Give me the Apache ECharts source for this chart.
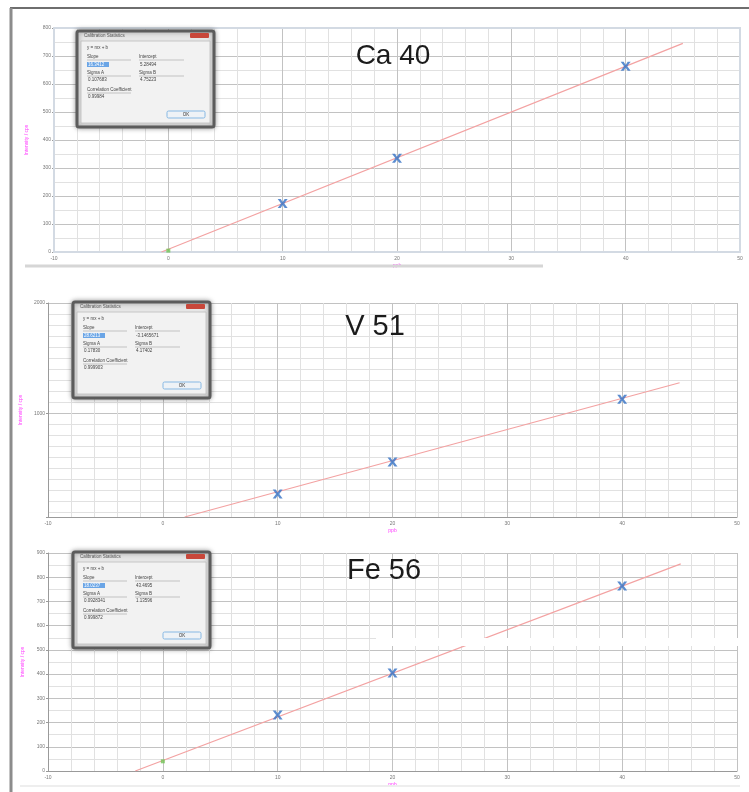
<html>
<head>
<meta charset="utf-8" />
<title>Calibration curves</title>
<script src="https://cdn.jsdelivr.net/npm/echarts@6/dist/echarts.min.js"></script>
<style>
    html, body { margin: 0; padding: 0; background: #fff; }
    #chart { width: 749px; height: 792px; }
</style>
</head>
<body>
<div id="chart"></div>
<script>
    let stdX = [10, 20, 40];

    let caY = [173, 335, 663];
    let caFitX = [-0.6, 45];
    let caFitY = [0, 745];
    let caBlank = [0, 5];

    let vY = [266, 556, 1127];
    let vFitX = [1.9, 45];
    let vFitY = [57, 1276];

    let feY = [231, 405, 764];
    let feFitX = [-2.4, 45.1];
    let feFitY = [0, 855];
    let feBlank = [0, 40];

    let titles = ['Ca 40', 'V 51', 'Fe 56'];

    // dialog texts: slope, intercept, sigma A, sigma B, correlation
    let caStats = ['16.3412', '5.28494', '0.107683', '4.75223', '0.99984'];
    let vStats = ['28.6213', '-3.1465671', '0.17830', '4.17402', '0.999903'];
    let feStats = ['18.0237', '43.4695', '0.0928341', '1.13596', '0.999872'];

    const MINOR = '#e1e1e1';
    const MAJOR = '#c2c2c2';
    const LABEL = { fontSize: 5, color: '#777', fontFamily: 'Liberation Sans' };
    const XMARK = 'path://M0,0 L3,0 L5,3.4 L7,0 L10,0 L6.6,5 L10,10 L7,10 L5,6.6 L3,10 L0,10 L3.4,5 Z';

    function pairs(xs, ys) {
        return xs.map((x, i) => [x, ys[i]]);
    }

    function xAxisFor(g) {
        return {
            type: 'value', gridIndex: g, min: -10, max: 50, interval: 10,
            name: 'ppb', nameLocation: 'middle', nameGap: 11,
            nameTextStyle: { fontSize: 5, color: '#ff3cff' },
            axisLine: { onZero: false, lineStyle: { color: '#9a9a9a' } },
            axisTick: { show: false },
            axisLabel: Object.assign({ margin: 4 }, LABEL),
            splitLine: { lineStyle: { color: MAJOR } },
            minorTick: { show: false, splitNumber: 5 },
            minorSplitLine: { show: true, lineStyle: { color: MINOR } }
        };
    }

    function yAxisFor(g, min, max, gap) {
        return {
            type: 'value', gridIndex: g, min: min, max: max, interval: 100,
            name: 'Intensity / cps', nameLocation: 'middle', nameGap: gap,
            nameTextStyle: { fontSize: 5, color: '#ff3cff' },
            axisLine: { show: true, onZero: false, lineStyle: { color: '#9a9a9a' } },
            axisTick: { show: true, length: 2, lineStyle: { color: '#999' } },
            axisLabel: Object.assign({ margin: 3 }, LABEL),
            splitLine: { lineStyle: { color: MAJOR } },
            minorTick: { show: false, splitNumber: 2 },
            minorSplitLine: { show: true, lineStyle: { color: MINOR } }
        };
    }

    function panelSeries(x, y, ys, fitX, fitY, blank) {
        let s = [
            {
                type: 'line', xAxisIndex: x, yAxisIndex: y, data: pairs(fitX, fitY),
                symbol: 'none', lineStyle: { color: '#f3a2a2', width: 1.2 }, z: 3
            },
            {
                type: 'scatter', xAxisIndex: x, yAxisIndex: y, data: pairs(stdX, ys),
                symbol: XMARK, symbolSize: [10, 9], itemStyle: { color: '#3370c4' }, z: 4
            }
        ];
        if (blank) {
            s.push({
                type: 'scatter', xAxisIndex: x, yAxisIndex: y, data: [blank],
                symbol: 'rect', symbolSize: 4, itemStyle: { color: '#72c456' }, z: 4
            });
        }
        return s;
    }

    function txt(x, y, s, size, color, align) {
        return {
            type: 'text', x: x, y: y, z: 101,
            style: {
                text: s, fontSize: size || 4.5, fill: color || '#444',
                fontFamily: 'Liberation Sans', align: align || 'left', verticalAlign: 'middle'
            }
        };
    }

    function dialog(x0, y0, st) {
        let els = [
            {
                type: 'rect', x: x0, y: y0, z: 100, shape: { width: 137, height: 96, r: 2 },
                style: { fill: '#e6e6e6', stroke: '#5c5c5c', lineWidth: 3, shadowBlur: 5, shadowColor: 'rgba(0,0,0,0.35)' }
            },
            {
                type: 'rect', x: x0 + 4, y: y0 + 10, z: 100, shape: { width: 129, height: 82 },
                style: { fill: '#f2f2f2', stroke: '#bdbdbd', lineWidth: 0.8 }
            },
            {
                type: 'rect', x: x0 + 113, y: y0 + 2, z: 101, shape: { width: 19, height: 5, r: 1 },
                style: { fill: '#c8473a' }
            },
            {
                type: 'rect', x: x0 + 10, y: y0 + 31, z: 101, shape: { width: 22, height: 5 },
                style: { fill: '#6aa5e6' }
            },
            {
                type: 'rect', x: x0 + 90, y: y0 + 80, z: 101, shape: { width: 38, height: 7, r: 1.5 },
                style: { fill: '#eef2f6', stroke: '#86b8e4', lineWidth: 1 }
            }
        ];
        // separator lines under the labels
        [[10, 29, 54], [62, 29, 107], [10, 45, 54], [62, 45, 107], [10, 62, 54]].forEach(l => {
            els.push({
                type: 'line', z: 101, shape: { x1: x0 + l[0], y1: y0 + l[1], x2: x0 + l[2], y2: y0 + l[1] },
                style: { stroke: '#b0b0b0', lineWidth: 0.7 }
            });
        });
        els.push(
            txt(x0 + 7, y0 + 5, 'Calibration Statistics', 4.5, '#555'),
            txt(x0 + 10, y0 + 17, 'y = mx + b'),
            txt(x0 + 10, y0 + 26, 'Slope'),
            txt(x0 + 11, y0 + 33.5, st[0], 4.5, '#fff'),
            txt(x0 + 62, y0 + 26, 'Intercept'),
            txt(x0 + 63, y0 + 33.5, st[1]),
            txt(x0 + 10, y0 + 42, 'Sigma A'),
            txt(x0 + 11, y0 + 49, st[2]),
            txt(x0 + 62, y0 + 42, 'Sigma B'),
            txt(x0 + 63, y0 + 49, st[3]),
            txt(x0 + 10, y0 + 58.5, 'Correlation Coefficient'),
            txt(x0 + 11, y0 + 65.5, st[4]),
            txt(x0 + 109, y0 + 83.5, 'OK', 4.5, '#333', 'center')
        );
        return els;
    }

    let chart = echarts.init(document.getElementById('chart'), null, { renderer: 'canvas' });

    // panel 2 uses two overlaid y axes: fine grid every 100, labelled grid every 1000
    let vFine = yAxisFor(1, 57, 2000, 23);
    delete vFine.interval;
    vFine.splitNumber = 20;
    vFine.name = '';
    vFine.axisLabel = { show: false };
    vFine.axisTick = { show: false };
    vFine.axisLine = { show: false };
    vFine.position = 'left';
    vFine.splitLine = { lineStyle: { color: MINOR } };
    vFine.minorSplitLine = { show: false };

    let vMain = yAxisFor(1, 57, 2000, 23);
    delete vMain.interval;
    vMain.splitNumber = 2;
    vMain.position = 'left';
    vMain.axisLabel.formatter = v => (v % 1000 === 0 ? String(v) : '');
    vMain.minorSplitLine = { show: false };

    chart.setOption({
        animation: false,
        backgroundColor: '#fff',
        grid: [
            { left: 54, right: 9, top: 28, height: 224 },
            { left: 48, right: 12, top: 303, height: 214 },
            { left: 48, right: 12, top: 553, height: 218 }
        ],
        xAxis: [xAxisFor(0), xAxisFor(1), xAxisFor(2)],
        yAxis: [
            yAxisFor(0, 0, 800, 25),
            vFine,
            vMain,
            yAxisFor(2, 0, 900, 23)
        ],
        series: [].concat(
            panelSeries(0, 0, caY, caFitX, caFitY, caBlank),
            panelSeries(1, 1, vY, vFitX, vFitY, null),
            panelSeries(2, 3, feY, feFitX, feFitY, feBlank)
        ),
        graphic: [].concat(
            [
                // outer frame of the screenshot
                { type: 'line', z: 50, shape: { x1: 10, y1: 8, x2: 749, y2: 8 }, style: { stroke: '#6e6e6e', lineWidth: 2 } },
                { type: 'line', z: 50, shape: { x1: 11, y1: 8, x2: 11, y2: 792 }, style: { stroke: '#8c8c8c', lineWidth: 3 } },
                // light frame round the first plot
                { type: 'rect', z: 1, shape: { x: 54, y: 28, width: 686, height: 224 }, style: { fill: 'none', stroke: '#d3dae3', lineWidth: 2 } },
                // scroll bar under the first plot
                { type: 'line', z: 50, shape: { x1: 25, y1: 266, x2: 543, y2: 266 }, style: { stroke: '#d6d6d6', lineWidth: 3 } },
                { type: 'line', z: 50, shape: { x1: 20, y1: 786, x2: 740, y2: 786 }, style: { stroke: '#eeeeee', lineWidth: 2 } },
                // white seam across the third plot
                { type: 'rect', z: 60, shape: { x: 376, y: 638, width: 368, height: 8 }, style: { fill: '#fff' } },
                txt(393, 56, titles[0], 28, '#1b1b1b', 'center'),
                txt(375, 327, titles[1], 29, '#1b1b1b', 'center'),
                txt(384, 571, titles[2], 29, '#1b1b1b', 'center')
            ],
            dialog(77, 31, caStats),
            dialog(73, 302, vStats),
            dialog(73, 552, feStats)
        )
    });
</script>
</body>
</html>
